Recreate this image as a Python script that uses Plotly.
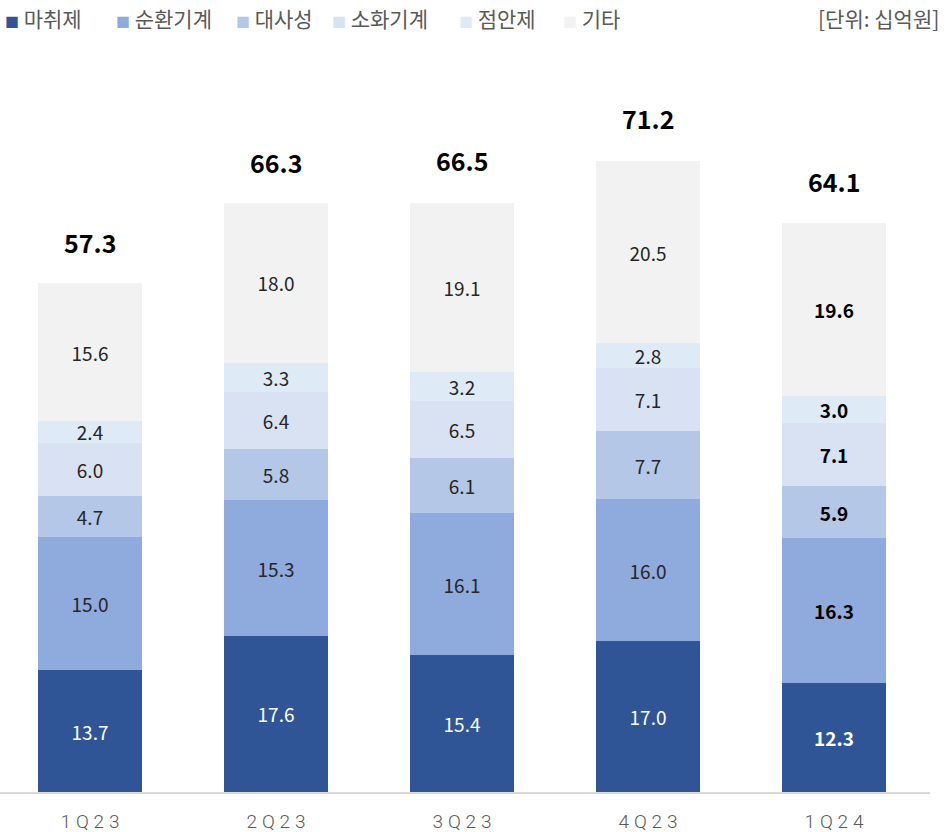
import plotly.graph_objects as go

categories = ["1Q23", "2Q23", "3Q23", "4Q23", "1Q24"]
series_names = ["마취제", "순환기계", "대사성", "소화기계", "점안제", "기타"]
anesthetic = [13.7, 17.6, 15.4, 17.0, 12.3]
cardio = [15.0, 15.3, 16.1, 16.0, 16.3]
metabolic = [4.7, 5.8, 6.1, 7.7, 5.9]
digestive = [6.0, 6.4, 6.5, 7.1, 7.1]
ophthalmic = [2.4, 3.3, 3.2, 2.8, 3.0]
others = [15.6, 18.0, 19.1, 20.5, 19.6]
totals = [57.3, 66.3, 66.5, 71.2, 64.1]
unit_label = "[단위: 십억원]"

series_values = [anesthetic, cardio, metabolic, digestive, ophthalmic, others]
colors = ["#2F5597", "#8FAADC", "#B4C7E7", "#D9E2F3", "#DEEBF7", "#F2F2F2"]
text_colors = ["#FFFFFF", "#262626", "#262626", "#262626", "#262626", "#262626"]

FONT = "Noto Sans CJK KR"

fig = go.Figure()
for name, vals, col, tcol in zip(series_names, series_values, colors, text_colors):
    txt = [f"{v:.1f}" if i < len(vals) - 1 else f"<b>{v:.1f}</b>" for i, v in enumerate(vals)]
    tc = [tcol] * (len(vals) - 1) + ["#FFFFFF" if tcol == "#FFFFFF" else "#000000"]
    fig.add_trace(go.Bar(
        x=categories, y=vals, name=name,
        marker=dict(color=col, line=dict(width=0)),
        text=txt, textposition="inside", insidetextanchor="middle",
        textangle=0, textfont=dict(family=FONT, size=19, color=tc),
        hoverinfo="skip", showlegend=False,
    ))

for c, t in zip(categories, totals):
    fig.add_annotation(x=c, y=t, xref="x", yref="y", text=f"<b>{t:.1f}</b>",
                       showarrow=False, yanchor="bottom", yshift=22,
                       font=dict(family=FONT, size=25, color="#000000"))

W, H = 946, 832
L, R, T, B = 0, 16, 40, 40
pw, ph = W - L - R, H - T - B

# legend as annotations (pixel positions converted to paper coords)
legend_x = [3, 114, 234, 330, 457, 561]
for name, col, lx in zip(series_names, colors, legend_x):
    fig.add_annotation(
        x=(lx - L) / pw, y=(H - B - 18) / ph, xref="paper", yref="paper",
        xanchor="left", yanchor="middle",
        text=f"<span style='color:{col}; font-size:14px'>■</span> {name}",
        showarrow=False, font=dict(family=FONT, size=21, color="#595959"))
fig.add_annotation(x=(941 - L) / pw, y=(H - B - 18) / ph, xref="paper", yref="paper",
                   xanchor="right", yanchor="middle",
                   text=unit_label, showarrow=False,
                   font=dict(family=FONT, size=21, color="#595959"))

ticktext = ["\u2005".join(list(c)) for c in categories]

fig.update_layout(
    width=W, height=H,
    margin=dict(l=L, r=R, t=T, b=B),
    barmode="stack", bargap=0.44,
    plot_bgcolor="white", paper_bgcolor="white",
    uniformtext=dict(minsize=19, mode="show"),
    xaxis=dict(range=[-0.4839, 4.516], showline=True, linecolor="#D9D9D9", linewidth=2,
               ticks="", showgrid=False, zeroline=False,
               tickmode="array", tickvals=categories, ticktext=ticktext,
               tickfont=dict(family="Roboto", size=19, color="#595959", weight=300),
               ticklabelstandoff=11),
    yaxis=dict(range=[0, 752 / 8.87], visible=False, showgrid=False, zeroline=False),
)

fig.write_html("out.html", config={"displayModeBar": False},
               post_script="document.body.style.margin='0';")
